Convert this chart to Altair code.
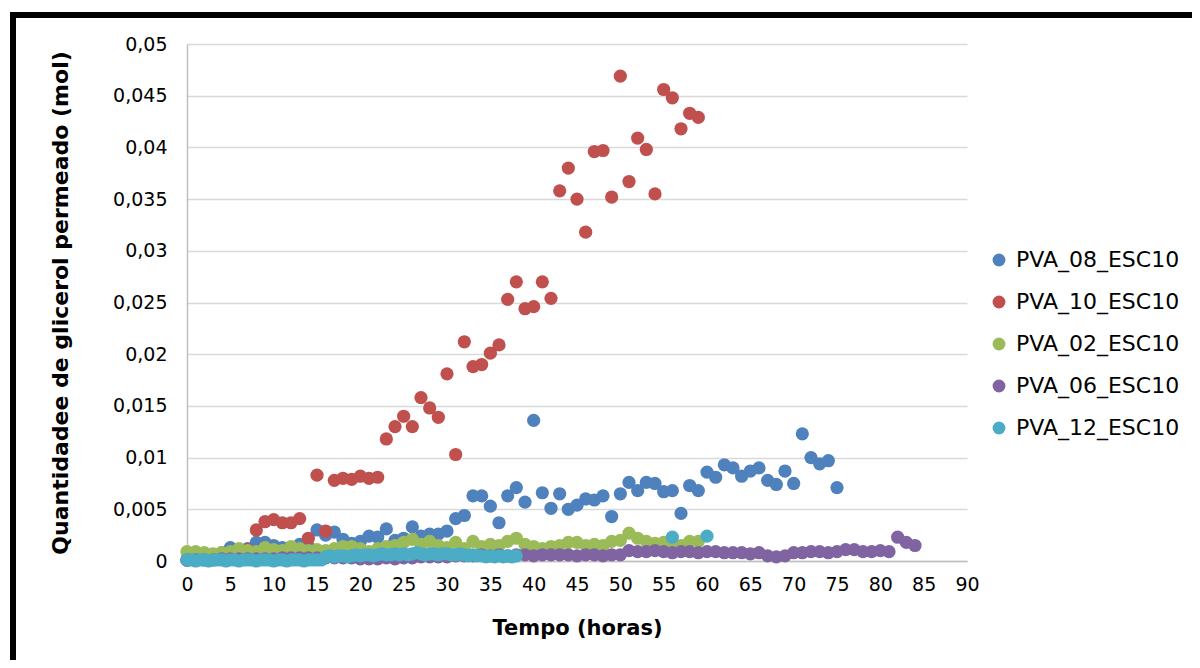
import altair as alt
import pandas as pd

series_names = ["PVA_08_ESC10", "PVA_10_ESC10", "PVA_02_ESC10", "PVA_06_ESC10", "PVA_12_ESC10"]
series_colors = ["#4F81BD", "#C0504D", "#9BBB59", "#8064A2", "#4BACC6"]

# PVA_08_ESC10 (blue), hourly 0..75
blue_x = list(range(0, 76))
blue_y = [0.0001, 0.0002, 0.0004, 0.0006, 0.0008, 0.0013, 0.0010, 0.0012, 0.0018, 0.0018,
          0.0015, 0.0013, 0.0013, 0.0016, 0.0014, 0.0030, 0.0025, 0.0028, 0.0021, 0.0017,
          0.0019, 0.0024, 0.0023, 0.0031, 0.0020, 0.0022, 0.0033, 0.0024, 0.0026, 0.0026,
          0.0029, 0.0041, 0.0044, 0.0063, 0.0063, 0.0053, 0.0037, 0.0063, 0.0071, 0.0057,
          0.0136, 0.0066, 0.0051, 0.0065, 0.0050, 0.0054, 0.0060, 0.0059, 0.0063, 0.0043,
          0.0065, 0.0076, 0.0068, 0.0076, 0.0075, 0.0067, 0.0068, 0.0046, 0.0073, 0.0068,
          0.0086, 0.0081, 0.0093, 0.0090, 0.0082, 0.0087, 0.0090, 0.0078, 0.0074, 0.0087,
          0.0075, 0.0123, 0.0100, 0.0094, 0.0097, 0.0071]

# PVA_10_ESC10 (red), hourly 0..59
red_x = list(range(0, 60))
red_y = [0.0001, 0.0002, 0.0003, 0.0004, 0.0005, 0.0006, 0.0008, 0.0011, 0.0030, 0.0038,
         0.0040, 0.0037, 0.0037, 0.0041, 0.0022, 0.0083, 0.0029, 0.0078, 0.0080, 0.0079,
         0.0082, 0.0080, 0.0081, 0.0118, 0.0130, 0.0140, 0.0130, 0.0158, 0.0148, 0.0139,
         0.0181, 0.0103, 0.0212, 0.0188, 0.0190, 0.0201, 0.0209, 0.0253, 0.0270, 0.0244,
         0.0246, 0.0270, 0.0254, 0.0358, 0.0380, 0.0350, 0.0318, 0.0396, 0.0397, 0.0352,
         0.0469, 0.0367, 0.0409, 0.0398, 0.0355, 0.0456, 0.0448, 0.0418, 0.0433, 0.0429]

# PVA_02_ESC10 (green), hourly 0..59
green_x = list(range(0, 60))
green_y = [0.0009, 0.0009, 0.0008, 0.0007, 0.0008, 0.0009, 0.0012, 0.0010, 0.0009, 0.0013,
           0.0011, 0.0010, 0.0014, 0.0012, 0.0010, 0.0011, 0.0010, 0.0012, 0.0014, 0.0014,
           0.0012, 0.0009, 0.0012, 0.0014, 0.0015, 0.0018, 0.0021, 0.0016, 0.0019, 0.0015,
           0.0013, 0.0018, 0.0012, 0.0019, 0.0014, 0.0016, 0.0015, 0.0019, 0.0022, 0.0016,
           0.0014, 0.0012, 0.0014, 0.0015, 0.0018, 0.0018, 0.0015, 0.0016, 0.0015, 0.0019,
           0.0020, 0.0027, 0.0022, 0.0019, 0.0017, 0.0018, 0.0016, 0.0015, 0.0019, 0.0019]

# PVA_06_ESC10 (purple), hourly 0..84
purple_x = list(range(0, 85))
purple_y = [0.0001, 0.0001, 0.0001, 0.0001, 0.0002, 0.0002, 0.0002, 0.0002, 0.0002, 0.0002,
            0.0002, 0.0003, 0.0003, 0.0003, 0.0003, 0.0003, 0.0003, 0.0003, 0.0003, 0.0003,
            0.0002, 0.0002, 0.0002, 0.0003, 0.0002, 0.0003, 0.0003, 0.0004, 0.0004, 0.0004,
            0.0004, 0.0005, 0.0005, 0.0005, 0.0006, 0.0005, 0.0006, 0.0005, 0.0006, 0.0006,
            0.0005, 0.0006, 0.0006, 0.0006, 0.0006, 0.0005, 0.0006, 0.0006, 0.0005, 0.0006,
            0.0006, 0.0010, 0.0009, 0.0009, 0.0010, 0.0009, 0.0008, 0.0009, 0.0009, 0.0008,
            0.0009, 0.0009, 0.0008, 0.0008, 0.0008, 0.0007, 0.0008, 0.0005, 0.0004, 0.0005,
            0.0008, 0.0008, 0.0009, 0.0009, 0.0008, 0.0009, 0.0011, 0.0011, 0.0009, 0.0009,
            0.0010, 0.0009, 0.0023, 0.0018, 0.0015]

# PVA_12_ESC10 (cyan), half-hourly 0..38 plus two late points
cyan_x = [0, 0.5, 1, 1.5, 2, 2.5, 3, 3.5, 4, 4.5, 5, 5.5, 6, 6.5, 7, 7.5, 8, 8.5, 9, 9.5,
          10, 10.5, 11, 11.5, 12, 12.5, 13, 13.5, 14, 14.5, 15, 15.5, 16, 16.5, 17, 17.5,
          18, 18.5, 19, 19.5, 20, 20.5, 21, 21.5, 22, 22.5, 23, 23.5, 24, 24.5, 25, 25.5,
          26, 26.5, 27, 27.5, 28, 28.5, 29, 29.5, 30, 30.5, 31, 31.5, 32, 32.5, 33, 33.5,
          34, 34.5, 35, 35.5, 36, 36.5, 37, 37.5, 38, 56, 60]
cyan_y = [0.0001, 0.0001, 0.0000, 0.0001, 0.0001, 0.0000, 0.0001, 0.0001, 0.0001, 0.0000,
          0.0001, 0.0001, 0.0000, 0.0001, 0.0001, 0.0001, 0.0000, 0.0001, 0.0001, 0.0001,
          0.0000, 0.0001, 0.0001, 0.0000, 0.0001, 0.0001, 0.0001, 0.0000, 0.0001, 0.0001,
          0.0001, 0.0001, 0.0004, 0.0005, 0.0004, 0.0005, 0.0005, 0.0004, 0.0005, 0.0006,
          0.0005, 0.0006, 0.0006, 0.0005, 0.0006, 0.0007, 0.0006, 0.0006, 0.0007, 0.0006,
          0.0007, 0.0006, 0.0007, 0.0008, 0.0007, 0.0006, 0.0007, 0.0007, 0.0006, 0.0007,
          0.0007, 0.0006, 0.0006, 0.0007, 0.0006, 0.0005, 0.0006, 0.0005, 0.0005, 0.0004,
          0.0005, 0.0004, 0.0005, 0.0004, 0.0005, 0.0004, 0.0005, 0.0023, 0.0024]

x_ticks = list(range(0, 95, 5))
y_ticks = [0, 0.005, 0.01, 0.015, 0.02, 0.025, 0.03, 0.035, 0.04, 0.045, 0.05]

rows = []
for i, (name, xs, ys) in enumerate(zip(series_names,
                                       [blue_x, red_x, green_x, purple_x, cyan_x],
                                       [blue_y, red_y, green_y, purple_y, cyan_y])):
    for xv, yv in zip(xs, ys):
        rows.append({"Tempo": xv, "Q": yv, "Serie": name, "ordem": i})
df = pd.DataFrame(rows)

FONT = "DejaVu Sans"

points = alt.Chart(df).mark_circle(size=175, opacity=1).encode(
    x=alt.X("Tempo:Q",
            scale=alt.Scale(domain=[0, 90], nice=False, zero=False),
            axis=alt.Axis(values=x_ticks, title="Tempo (horas)", grid=False, ticks=False,
                          labelFlush=False, labelOverlap=False,
                          labelPadding=14, labelFontSize=19, labelFont=FONT, labelColor="#000000",
                          domainColor="#BFBFBF", domainWidth=1.5,
                          titleFont=FONT, titleFontSize=21, titleFontWeight="bold", titleColor="#000000",
                          titleY=67, titleBaseline="middle")),
    y=alt.Y("Q:Q",
            scale=alt.Scale(domain=[0, 0.05], nice=False),
            axis=alt.Axis(values=y_ticks, title="Quantidadee de glicerol permeado (mol)",
                          grid=True, gridColor="#D9D9D9", gridWidth=1.5, ticks=False,
                          labelFlush=False,
                          labelExpr="replace(format(datum.value, '.3~f'), '.', ',')",
                          labelPadding=20, labelFontSize=19, labelFont=FONT, labelColor="#000000",
                          domainColor="#BFBFBF", domainWidth=1.5,
                          titleFont=FONT, titleFontSize=22, titleFontWeight="bold", titleColor="#000000",
                          titleX=-127, titleBaseline="middle")),
    color=alt.Color("Serie:N",
                    scale=alt.Scale(domain=series_names, range=series_colors),
                    legend=alt.Legend(title=None, orient="none", legendX=801, legendY=205,
                                      symbolType="circle", symbolSize=165, symbolStrokeWidth=0,
                                      labelFont=FONT, labelFontSize=22, labelColor="#000000",
                                      labelLimit=400, labelOffset=6, rowPadding=20)),
    order=alt.Order("ordem:Q"),
)

frame = alt.Chart(alt.Data(values=[{}])).mark_rect(
    fill="transparent", stroke="#000000", strokeWidth=6
).encode(
    x=alt.value(-174), x2=alt.value(1200), y=alt.value(-29), y2=alt.value(800)
)

chart = alt.layer(frame, points).properties(
    width=780, height=517,
    autosize=alt.AutoSizeParams(type="none"),
    padding={"left": 179, "top": 36, "right": 225, "bottom": 99},
).configure_view(stroke=None)

chart.save("out.html", embed_options={"renderer": "svg", "actions": False})
